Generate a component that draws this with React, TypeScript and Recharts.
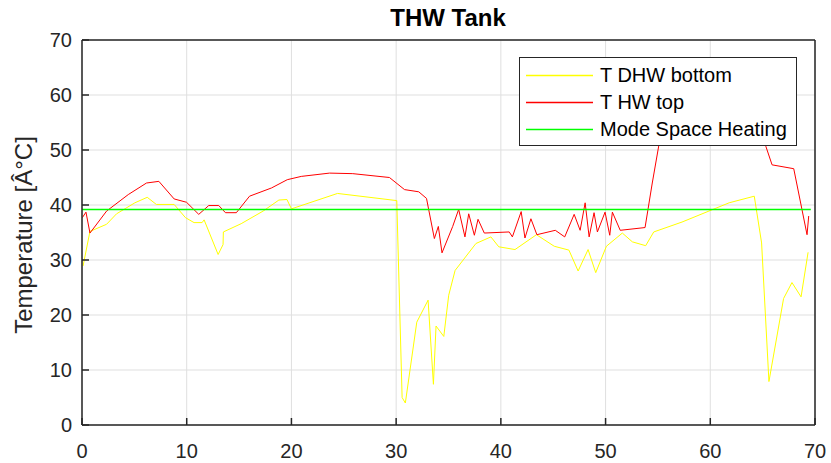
import { LineChart, Line, XAxis, YAxis, CartesianGrid, Legend } from 'recharts';

// readings over time (x in h, y in °C)
const dhwTime = [
  0.1, 0.76, 2.35, 3.3, 5.05, 6.23, 7.1, 8.8, 9.88, 10.7, 11.47, 11.66, 13.0, 13.47, 13.5, 15.2, 17.3,
  18.8, 19.57, 20.0, 24.4, 30.06, 30.57, 30.88, 31.97, 33.05, 33.56, 33.81, 34.55, 35.02, 35.63, 37.62,
  39.05, 39.8, 41.35, 43.4, 45.1, 46.5, 47.38, 48.33, 49.06, 50.08, 51.6, 52.56, 53.83, 54.6, 57.3,
  59.87, 61.8, 64.2, 64.9, 65.6, 67.0, 67.8, 68.67, 69.34,
];
const dhwTemp = [
  28.9, 35.2, 36.5, 38.4, 40.4, 41.4, 40.1, 40.1, 37.7, 36.8, 36.8, 37.3, 31.0, 32.8, 35.1, 36.6, 38.9,
  40.9, 41.0, 39.3, 42.1, 40.8, 5.0, 4.0, 18.7, 22.7, 7.4, 18.0, 16.1, 23.6, 28.1, 33.0,
  34.2, 32.4, 31.9, 34.6, 32.5, 31.8, 28.0, 31.9, 27.7, 32.5, 34.9, 33.3, 32.6, 35.1, 36.9,
  38.9, 40.4, 41.6, 33.1, 7.9, 23.0, 25.9, 23.3, 31.4,
];

const hwTime = [
  0.03, 0.38, 0.76, 2.35, 4.42, 6.16, 7.34, 8.8, 9.98, 11.15, 12.1, 13.06, 13.7, 14.74, 16.0, 18.1,
  19.6, 20.94, 23.64, 25.86, 29.36, 30.8, 32.16, 32.9, 33.65, 34.03, 34.38, 35.4, 35.97, 36.57, 36.93,
  37.47, 37.82, 38.42, 40.8, 41.1, 41.94, 42.3, 42.87, 43.44, 45.2, 46.1, 47.0, 47.57, 48.05, 48.43,
  48.9, 49.22, 49.95, 50.4, 50.65, 51.4, 53.77, 54.46, 55.1, 56.0, 58.5, 61.5, 64.0, 65.3, 65.9,
  67.97, 69.24, 69.4,
];
const hwTemp = [
  37.7, 38.7, 34.9, 38.9, 41.9, 44.0, 44.3, 41.1, 40.5, 38.3, 39.9, 39.9, 38.6, 38.6, 41.6, 43.1,
  44.6, 45.2, 45.8, 45.7, 45.0, 42.8, 42.4, 41.2, 33.9, 36.1, 31.3, 36.1, 39.2, 34.2, 38.4,
  34.5, 37.4, 34.9, 35.1, 34.2, 38.8, 34.0, 37.5, 34.6, 35.4, 34.2, 38.3, 35.4, 40.4, 34.2,
  38.6, 35.1, 38.7, 34.5, 38.7, 35.4, 35.9, 44.0, 51.0, 57.0, 59.5, 60.0, 57.0, 50.7, 47.3,
  46.6, 34.6, 38.0,
];

const modeTime = [0, 69.6];
const modeLevel = [39.2, 39.2];

const axisTicks = [0, 10, 20, 30, 40, 50, 60, 70];

const FONT = '"Liberation Sans", Arial, Helvetica, sans-serif';
const AXIS_COLOR = '#262626';

const series = [
  { name: 'T DHW bottom', color: '#ffff00', width: 1, data: toPoints(dhwTime, dhwTemp) },
  { name: 'T HW top', color: '#ff0000', width: 1, data: toPoints(hwTime, hwTemp) },
  { name: 'Mode Space Heating', color: '#00ff00', width: 1.5, data: toPoints(modeTime, modeLevel) },
];

function toPoints(t: number[], v: number[]) {
  return t.map((x, i) => ({ t: x, v: v[i] }));
}

function LegendBox() {
  return (
    <div
      style={{
        border: `1px solid ${AXIS_COLOR}`,
        background: '#fff',
        padding: '4px 0 2px 6px',
        boxSizing: 'border-box',
        width: 278,
        fontFamily: FONT,
      }}
    >
      {series.map((s) => (
        <div key={s.name} style={{ display: 'flex', alignItems: 'center', height: 27 }}>
          <svg width={67} height={27} style={{ marginRight: 7, display: 'block' }}>
            <line x1={0} x2={67} y1={13.5} y2={13.5} stroke={s.color} strokeWidth={1.5} />
          </svg>
          <span style={{ fontSize: 20, color: '#000', whiteSpace: 'nowrap' }}>{s.name}</span>
        </div>
      ))}
    </div>
  );
}

export default function App() {
  const tickStyle = { fontSize: 20, fill: AXIS_COLOR, fontFamily: FONT };
  const axisLine = { stroke: AXIS_COLOR, strokeWidth: 1.5 };
  const tickLine = { stroke: AXIS_COLOR, strokeWidth: 1.5 };

  return (
    <div style={{ position: 'absolute', left: 0, top: 0, width: 831, height: 463, background: '#fff', fontFamily: FONT }}>
      <LineChart width={831} height={463} margin={{ top: 39, right: 15, bottom: 8, left: 0 }}>
        <CartesianGrid stroke="#dfdfdf" strokeWidth={1} />
        <XAxis
          type="number"
          dataKey="t"
          domain={[0, 70]}
          ticks={axisTicks}
          allowDataOverflow
          height={30}
          tickSize={-7}
          tickMargin={26}
          tick={tickStyle}
          axisLine={axisLine}
          tickLine={tickLine}
        />
        <XAxis
          xAxisId="top"
          orientation="top"
          type="number"
          dataKey="t"
          domain={[0, 70]}
          ticks={axisTicks}
          allowDataOverflow
          height={1}
          tickSize={-7}
          tick={false}
          axisLine={axisLine}
          tickLine={tickLine}
        />
        <YAxis
          type="number"
          domain={[0, 70]}
          ticks={axisTicks}
          allowDataOverflow
          width={82}
          tickSize={-7}
          tickMargin={17}
          tick={tickStyle}
          axisLine={axisLine}
          tickLine={tickLine}
        />
        <YAxis
          yAxisId="right"
          orientation="right"
          type="number"
          domain={[0, 70]}
          ticks={axisTicks}
          allowDataOverflow
          width={1}
          tickSize={-7}
          tick={false}
          axisLine={axisLine}
          tickLine={tickLine}
        />
        {series.map((s) => (
          <Line
            key={s.name}
            data={s.data}
            dataKey="v"
            name={s.name}
            type="linear"
            stroke={s.color}
            strokeWidth={s.width}
            dot={false}
            activeDot={false}
            isAnimationActive={false}
          />
        ))}
        <Legend
          layout="horizontal"
          align="center"
          verticalAlign="middle"
          content={() => <LegendBox />}
          wrapperStyle={{ position: 'absolute', left: 519, top: 57, width: 278, height: 'auto' }}
        />
      </LineChart>

      <div
        style={{
          position: 'absolute',
          left: 348,
          top: 6,
          width: 200,
          textAlign: 'center',
          fontSize: 24,
          fontWeight: 'bold',
          lineHeight: '24px',
          color: '#000',
        }}
      >
        THW Tank
      </div>

      <div
        style={{
          position: 'absolute',
          left: 24 - 150,
          top: 235 - 12,
          width: 300,
          height: 24,
          lineHeight: '24px',
          textAlign: 'center',
          fontSize: 24,
          color: AXIS_COLOR,
          transform: 'rotate(-90deg)',
          whiteSpace: 'nowrap',
        }}
      >
        Temperature [Â°C]
      </div>
    </div>
  );
}
